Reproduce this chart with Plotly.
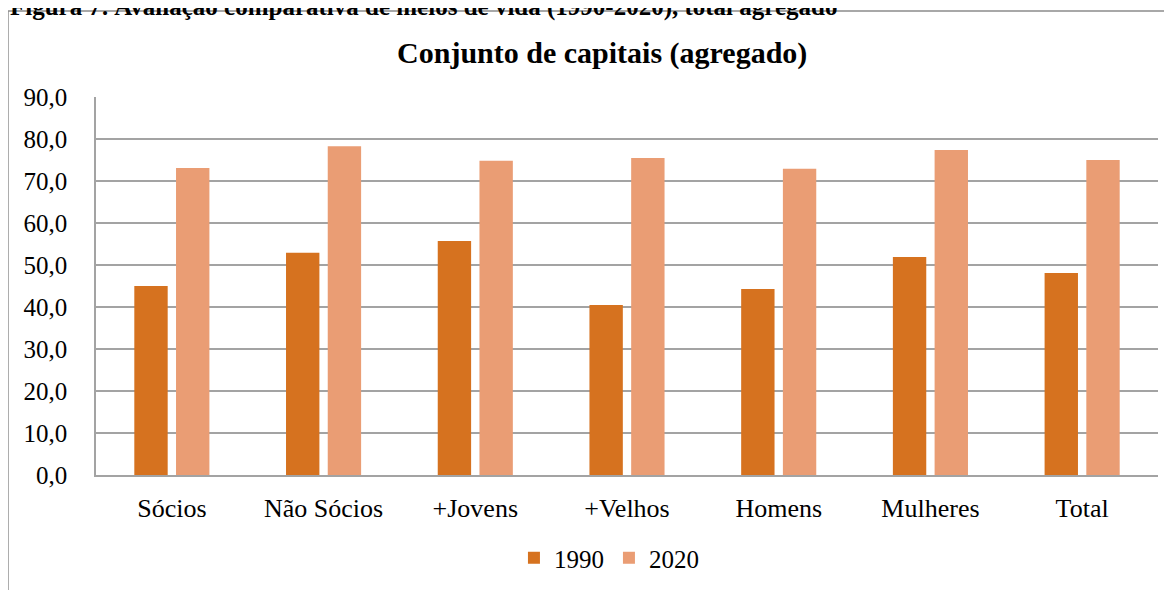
import plotly.graph_objects as go

CATEGORIAS = ["Sócios", "Não Sócios", "+Jovens", "+Velhos", "Homens", "Mulheres", "Total"]
V1990 = [45.0, 52.9, 55.7, 40.5, 44.3, 51.9, 48.1]
V2020 = [73.1, 78.3, 74.8, 75.5, 72.9, 77.4, 75.0]
Y_TICKS = [0, 10, 20, 30, 40, 50, 60, 70, 80, 90]

SERIF = "Liberation Serif, Times New Roman, serif"
C1990 = "#D6721F"
C2020 = "#EA9D74"
GRID = "#A3A3A3"

fig = go.Figure()
fig.add_trace(go.Bar(name="1990", x=CATEGORIAS, y=V1990, marker=dict(color=C1990, line=dict(width=0))))
fig.add_trace(go.Bar(name="2020", x=CATEGORIAS, y=V2020, marker=dict(color=C2020, line=dict(width=0))))

# a página tem 8px de margem no body: compensado nas margens
fig.update_layout(
    width=1172, height=590,
    margin=dict(l=88, r=22, t=89, b=123),
    paper_bgcolor="white", plot_bgcolor="white",
    font=dict(family=SERIF, color="black", size=25),
    separators=",.",
    barmode="group", bargap=0.45, bargroupgap=0.2,
    title=dict(text="<b>Conjunto de capitais (agregado)</b>", x=0.507, xanchor="center",
               y=0.925, yanchor="middle", font=dict(size=30, family=SERIF)),
    showlegend=True,
    legend=dict(orientation="h", x=0.483, xanchor="center", y=-0.2196, yanchor="middle",
                font=dict(size=25, family=SERIF), itemwidth=30, traceorder="normal"),
)
fig.update_yaxes(range=[0, 90], tickvals=Y_TICKS, tickformat=".1f", showgrid=True,
                 gridcolor=GRID, gridwidth=1.5, zeroline=False, showline=True,
                 linecolor=GRID, linewidth=1.5, ticks="", ticklabelstandoff=22,
                 automargin=False, tickfont=dict(size=25))
fig.update_xaxes(showgrid=False, showline=True, linecolor=GRID, linewidth=1.5, ticks="",
                 ticklabelstandoff=9, automargin=False, tickfont=dict(size=26))

# moldura do gráfico (Excel) e legenda da figura cortada no topo
fig.add_shape(type="rect", xref="paper", yref="paper", x0=-0.0829, x1=1.2, y0=-0.6, y1=1.2275,
              line=dict(color="#8C8C8C", width=1.5), fillcolor="rgba(0,0,0,0)", layer="below")
fig.add_annotation(text="<b>Figura 7: Avaliação comparativa de meios de vida (1990-2020), total agregado</b>",
                   xref="paper", yref="paper", x=-0.0829, y=1.238, xanchor="left", yanchor="middle",
                   showarrow=False, font=dict(size=25, family=SERIF))

fig.write_html("out.html")
